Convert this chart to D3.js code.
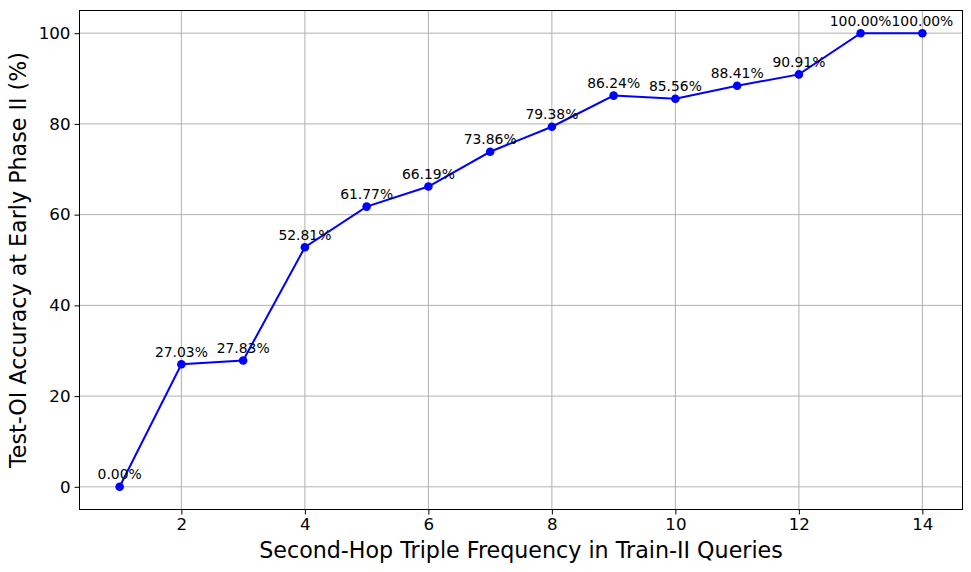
<!DOCTYPE html>
<html><head><meta charset="utf-8">
<script src="https://cdn.jsdelivr.net/npm/d3@7"></script>
<style>body{margin:0;background:#fff}svg{display:block}text{font-family:"DejaVu Sans",sans-serif}</style>
</head><body>
<svg id="c" width="971" height="572"></svg>
<script>
const xValues = [1,2,3,4,5,6,7,8,9,10,11,12,13,14];
const accuracy = [0.00,27.03,27.83,52.81,61.77,66.19,73.86,79.38,86.24,85.56,88.41,90.91,100.00,100.00];
const xTicks = [2,4,6,8,10,12,14];
const yTicks = [0,20,40,60,80,100];
const xLabel = "Second-Hop Triple Frequency in Train-II Queries";
const yLabel = "Test-OI Accuracy at Early Phase II (%)";

const svg = d3.select("#c");
const L=79.5, R=962.5, T=10.5, B=509.5;
const x = d3.scaleLinear().domain([0.35,14.65]).range([L,R]);
const y = d3.scaleLinear().domain([-5,105]).range([B,T]);

const g = svg.append("g");
// grid
g.selectAll(".gx").data(xTicks).join("line")
 .attr("x1",d=>x(d)).attr("x2",d=>x(d)).attr("y1",T).attr("y2",B)
 .attr("stroke","#b0b0b0").attr("stroke-width",1);
g.selectAll(".gy").data(yTicks).join("line")
 .attr("y1",d=>y(d)).attr("y2",d=>y(d)).attr("x1",L).attr("x2",R)
 .attr("stroke","#b0b0b0").attr("stroke-width",1);

const xa = svg.append("g").attr("transform",`translate(0,${B})`)
 .call(d3.axisBottom(x).tickValues(xTicks).tickSize(5).tickPadding(4).tickFormat(d3.format("d")));
const ya = svg.append("g").attr("transform",`translate(${L},0)`)
 .call(d3.axisLeft(y).tickValues(yTicks).tickSize(5).tickPadding(4).tickFormat(d3.format("d")));
[xa,ya].forEach(a=>{a.select(".domain").remove();
 a.selectAll("text").attr("font-size","16.7px").attr("fill","#000").attr("font-family","DejaVu Sans");
 a.selectAll("line").attr("stroke","#000").attr("stroke-width",1);});

svg.append("rect").attr("x",L).attr("y",T).attr("width",R-L).attr("height",B-T)
 .attr("fill","none").attr("stroke","#000").attr("stroke-width",1);

const data = xValues.map((v,i)=>({x:v,y:accuracy[i]}));
svg.append("path").datum(data)
 .attr("d",d3.line().x(d=>x(d.x)).y(d=>y(d.y)))
 .attr("fill","none").attr("stroke","#0000ff").attr("stroke-width",2);
svg.selectAll(".pt").data(data).join("circle")
 .attr("cx",d=>x(d.x)).attr("cy",d=>y(d.y)).attr("r",4.3).attr("fill","#0000ff");
svg.selectAll(".lbl").data(data).join("text")
 .attr("x",d=>x(d.x)).attr("y",d=>y(d.y)-7.5).attr("text-anchor","middle")
 .attr("font-size","13.9px").attr("fill","#000")
 .text(d=>d.y.toFixed(2)+"%");

svg.append("text").attr("x",(L+R)/2).attr("y",558).attr("text-anchor","middle")
 .attr("font-size","22.2px").text(xLabel);
svg.append("text").attr("transform",`translate(26,${(T+B)/2}) rotate(-90)`).attr("text-anchor","middle")
 .attr("font-size","22.2px").text(yLabel);
</script>
</body></html>
